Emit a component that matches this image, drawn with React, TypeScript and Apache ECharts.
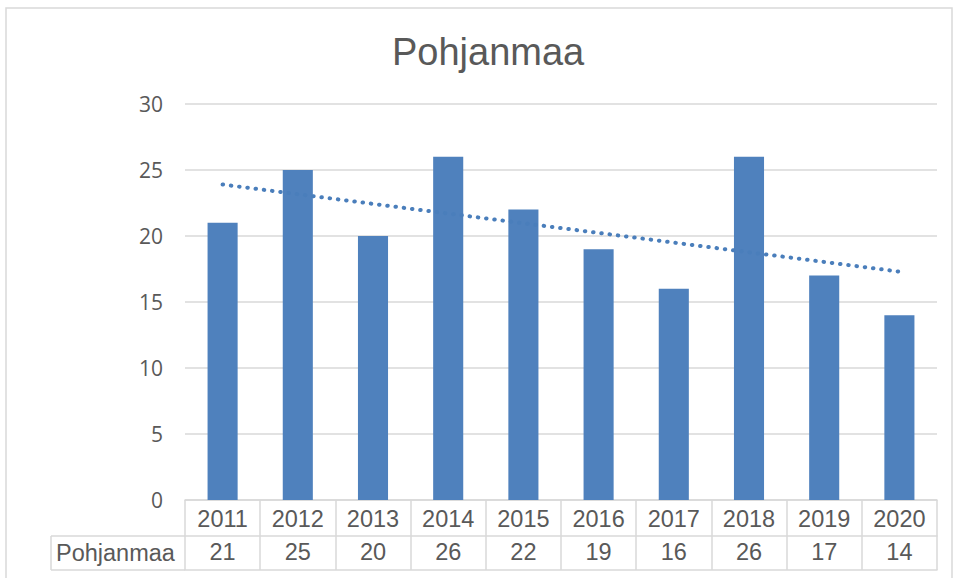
import React, { useEffect, useRef } from "react";
import * as echarts from "echarts";

const title = "Pohjanmaa";
const seriesName = "Pohjanmaa";
const years = ["2011", "2012", "2013", "2014", "2015", "2016", "2017", "2018", "2019", "2020"];
const values = [21, 25, 20, 26, 22, 19, 16, 26, 17, 14];
// dotted linear trendline, endpoints
const trendStart = 23.9;
const trendEnd = 17.3;
const yTicks = { min: 0, max: 30, interval: 5 };

const GRAY = "#595959";
const LINE = "#d9d9d9";
const BLUE = "#4f81bd";

export default function App() {
  const ref = useRef<HTMLDivElement>(null);
  useEffect(() => {
    if (!ref.current) return;
    const chart = echarts.init(ref.current, undefined, { renderer: "svg" });
    const trend = years.map((_, i) => (i === 0 ? trendStart : i === years.length - 1 ? trendEnd : null));
    chart.setOption({
      animation: false,
      backgroundColor: "#ffffff",
      title: {
        text: title,
        left: 387,
        top: 28,
        textStyle: { fontFamily: "Liberation Sans", fontSize: 38, fontWeight: "normal", color: GRAY },
      },
      grid: { left: 185, right: 16, top: 104, bottom: 78, containLabel: false },
      xAxis: [
        {
          type: "category",
          data: years,
          position: "bottom",
          boundaryGap: true,
          axisLine: { show: true, lineStyle: { color: LINE, width: 1.5 } },
          axisTick: { show: true, inside: false, length: 70, lineStyle: { color: LINE, width: 1.5 } },
          axisLabel: { interval: 0, margin: 7, fontFamily: "Liberation Sans", fontSize: 23.5, color: GRAY },
          splitLine: { show: false },
        },
        {
          type: "category",
          data: years,
          position: "bottom",
          offset: 36,
          boundaryGap: true,
          axisLine: { show: true, lineStyle: { color: LINE, width: 1.5 } },
          axisTick: { show: false },
          axisLabel: {
            interval: 0,
            margin: 4,
            fontFamily: "Liberation Sans",
            fontSize: 23.5,
            color: GRAY,
            formatter: (_v: string, idx: number) => String(values[idx]),
          },
          splitLine: { show: false },
        },
        {
          type: "category",
          data: years,
          position: "bottom",
          offset: 70,
          boundaryGap: true,
          axisLine: { show: true, lineStyle: { color: LINE, width: 1.5 } },
          axisTick: { show: false },
          axisLabel: { show: false },
          splitLine: { show: false },
        },
      ],
      yAxis: {
        type: "value",
        min: yTicks.min,
        max: yTicks.max,
        interval: yTicks.interval,
        axisLine: { show: false },
        axisTick: { show: false },
        axisLabel: { margin: 22, fontFamily: "Open Sans", fontSize: 21, color: GRAY },
        splitLine: { show: true, lineStyle: { color: LINE, width: 1.5 } },
      },
      series: [
        {
          name: seriesName,
          type: "bar",
          data: values,
          xAxisIndex: 0,
          barWidth: "40%",
          itemStyle: { color: BLUE },
        },
        {
          name: "trend",
          type: "line",
          data: trend,
          xAxisIndex: 0,
          connectNulls: true,
          showSymbol: false,
          symbol: "none",
          lineStyle: { color: "#4a7ebb", width: 4, type: [0.5, 7.8], cap: "round" },
          z: 5,
        },
      ],
      graphic: [
        {
          type: "rect",
          shape: { x: 6, y: 8, width: 946, height: 620 },
          style: { fill: "none", stroke: LINE, lineWidth: 1.5 },
          silent: true,
        },
        {
          type: "line",
          shape: { x1: 51, y1: 536, x2: 185, y2: 536 },
          style: { stroke: LINE, lineWidth: 1.5 },
        },
        {
          type: "line",
          shape: { x1: 51, y1: 570, x2: 185, y2: 570 },
          style: { stroke: LINE, lineWidth: 1.5 },
        },
        {
          type: "line",
          shape: { x1: 51, y1: 536, x2: 51, y2: 570 },
          style: { stroke: LINE, lineWidth: 1.5 },
        },
        {
          type: "text",
          x: 56,
          y: 553,
          style: {
            text: seriesName,
            fontFamily: "Liberation Sans",
            fontSize: 23.5,
            fill: GRAY,
            verticalAlign: "middle",
            align: "left",
          },
        },
      ],
    });
    return () => chart.dispose();
  }, []);
  return <div ref={ref} style={{ position: "fixed", left: 0, top: 0, width: 953, height: 578 }} />;
}
